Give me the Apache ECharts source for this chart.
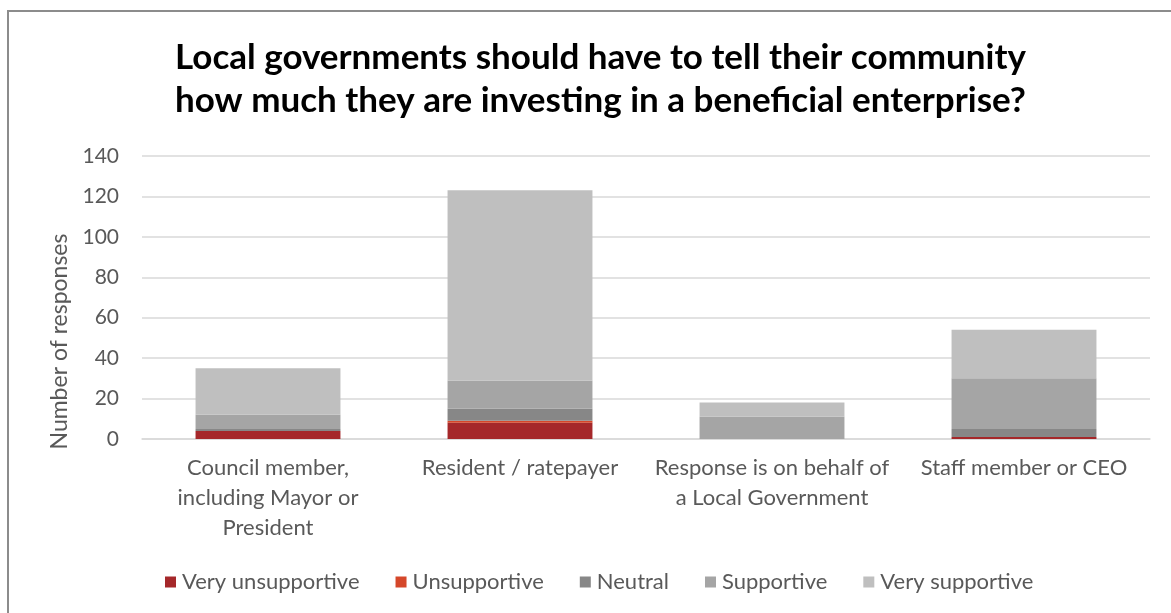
<!DOCTYPE html>
<html>
<head>
<meta charset="utf-8">
<script src="https://cdn.jsdelivr.net/npm/echarts@6/dist/echarts.min.js"></script>
<style>
  html, body { margin: 0; padding: 0; background: #fff; }
  #chart { width: 1171px; height: 613px; }
</style>
</head>
<body>
<div id="chart"></div>
<script>
// Respondent groups along the x axis
const categories = [
  'Council member,\nincluding Mayor or\nPresident',
  'Resident / ratepayer',
  'Response is on behalf of\na Local Government',
  'Staff member or CEO'
];

// Response counts per group, stacked from least to most supportive
const veryUnsupportive = [4, 8, 0, 1];
const unsupportive     = [0, 1, 0, 0];
const neutral          = [1, 6, 0, 4];
const supportive       = [7, 14, 11, 25];
const verySupportive   = [23, 94, 7, 24];

const seriesNames = ['Very unsupportive', 'Unsupportive', 'Neutral', 'Supportive', 'Very supportive'];
const seriesColors = ['#A5282A', '#D5472A', '#878787', '#A5A5A5', '#BFBFBF'];
const seriesData = [veryUnsupportive, unsupportive, neutral, supportive, verySupportive];

const yTicks = { min: 0, max: 140, interval: 20 };

const FONT = 'Lato, "Open Sans", sans-serif';
const TEXT = '#595959';

const chart = echarts.init(document.getElementById('chart'), null, { renderer: 'canvas' });

chart.setOption({
  animation: false,
  backgroundColor: '#ffffff',
  textStyle: { fontFamily: FONT },
  graphic: [{
    type: 'rect',
    shape: { x: 8, y: 11, width: 1300, height: 800 },
    style: { fill: 'none', stroke: '#8C8C8C', lineWidth: 2 },
    silent: true
  }],
  title: {
    text: 'Local governments should have to tell their community\nhow much they are investing in a beneficial enterprise?',
    left: 170,
    top: 31,
    textAlign: 'left',
    textStyle: {
      fontFamily: FONT,
      fontSize: 35,
      fontWeight: 'bold',
      color: '#000000',
      lineHeight: 43,
      align: 'center'
    }
  },
  legend: {
    data: seriesNames,
    left: 160,
    top: 566,
    icon: 'rect',
    itemWidth: 11,
    itemHeight: 11,
    itemGap: 36,
    textStyle: { fontFamily: FONT, fontSize: 22, color: TEXT, padding: [0, 0, 0, 1] }
  },
  grid: {
    left: 142,
    right: 21,
    top: 156,
    bottom: 174,
    containLabel: false
  },
  xAxis: {
    type: 'category',
    data: categories,
    axisLine: { show: true, lineStyle: { color: '#D9D9D9', width: 1.5 } },
    axisTick: { show: false },
    axisLabel: {
      fontFamily: FONT,
      fontSize: 22,
      color: TEXT,
      lineHeight: 30,
      margin: 14,
      interval: 0
    }
  },
  yAxis: {
    type: 'value',
    min: yTicks.min,
    max: yTicks.max,
    interval: yTicks.interval,
    name: 'Number of responses',
    nameLocation: 'middle',
    nameGap: 70,
    nameRotate: 90,
    nameTextStyle: { fontFamily: FONT, fontSize: 23, color: TEXT, padding: [0, 88, 0, 0] },
    axisLine: { show: false },
    axisTick: { show: false },
    axisLabel: { fontFamily: FONT, fontSize: 21, color: TEXT, margin: 23 },
    splitLine: { lineStyle: { color: '#D9D9D9', width: 1.5 } }
  },
  series: seriesData.map((values, i) => ({
    name: seriesNames[i],
    type: 'bar',
    stack: 'total',
    data: values,
    barWidth: '57.5%',
    itemStyle: { color: seriesColors[i] }
  }))
});
</script>
</body>
</html>
